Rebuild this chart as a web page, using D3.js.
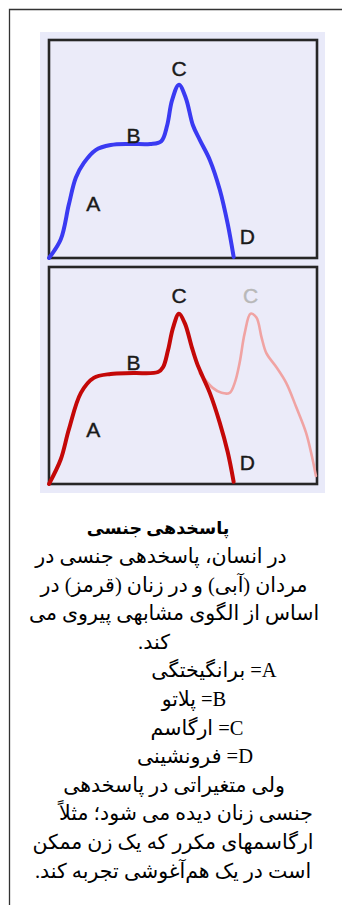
<!DOCTYPE html>
<html>
<head>
<meta charset="utf-8">
<script src="https://cdn.jsdelivr.net/npm/d3@7"></script>
<style>
  html, body { margin: 0; padding: 0; background: #fff; }
  svg { display: block; }
</style>
</head>
<body>
<svg id="chart" width="342" height="905"></svg>
<script>
// time (0-100) vs arousal (0-100)
const maleTime    = [0, 4.4, 7.4, 10, 13, 17.4, 23, 30.4, 37.8, 41.9, 44.1, 45.9, 48.5, 51.1, 53.7, 56.3, 60, 63.7, 66.7, 68.9];
const maleArousal = [0, 8.6, 24.5, 36.8, 43.6, 49.5, 51.8, 52.3, 52.3, 53.6, 60.9, 72.3, 79.5, 73.2, 60.9, 54.1, 45, 31.4, 15.5, 0.5];

const femaleTime    = [0, 4.4, 7.4, 11.9, 16.7, 23, 31.5, 40.7, 42.6, 44.4, 46.3, 48.5, 50.7, 53.3, 55.2, 57.4, 60, 63.7, 66.7, 68.9];
const femaleArousal = [0, 11.4, 25.1, 42, 48.9, 50.7, 51.1, 51.6, 53.9, 61.6, 72.1, 78.5, 74, 63, 55.7, 49.3, 42, 28.3, 14.6, 1];

// second orgasm branch (pale red)
const repeatTime    = [56.3, 61.1, 64.4, 67.4, 69.3, 71.1, 73, 75.2, 77.4, 79.3, 81.1, 84.8, 88.5, 92.2, 95.9, 98.1, 99.6];
const repeatArousal = [51.1, 44.3, 42, 42, 46.6, 55.7, 69.4, 78.5, 76.7, 67.6, 60.3, 53.9, 46.6, 35.6, 23.7, 12.8, 3.7];

const phaseNames = ["A", "B", "C", "D"];
const phaseTime    = [16.5, 31.5, 48.5, 74];
const phaseArousal = [25, 56, 87, 10];

const title = "پاسخدهی جنسی";
const bodyLines = [
  "در انسان، پاسخدهی جنسی در",
  "مردان (آبی) و در زنان (قرمز) در",
  "اساس از الگوی مشابهی پیروی می",
  "کند.",
  "A= برانگیختگی",
  "B= پلاتو",
  "C= ارگاسم",
  "D= فرونشینی",
  "ولی متغیراتی در پاسخدهی",
  "جنسی زنان دیده می شود؛ مثلاً",
  "ارگاسمهای مکرر که یک زن ممکن",
  "است در یک هم‌آغوشی تجربه کند."
];
// horizontal centre of each text line (layout only)
const lineCentre = [161, 174, 174, 154, 214, 194, 197, 195, 174, 186, 173, 173];

const svg = d3.select("#chart");

// outer frame (open on right and bottom)
svg.append("path")
  .attr("d", "M9.5,905 L9.5,9.5 L342,9.5")
  .attr("fill", "none")
  .attr("stroke", "#333")
  .attr("stroke-width", 1.3);

// lavender picture panel
svg.append("rect")
  .attr("x", 40).attr("y", 32)
  .attr("width", 285).attr("height", 461)
  .attr("fill", "#e9eaf9");

const x = d3.scaleLinear().domain([0, 100]).range([49, 317]);
const yTop = d3.scaleLinear().domain([0, 100]).range([258, 40]);
const yBot = d3.scaleLinear().domain([0, 100]).range([484, 267]);

function panel(y) {
  const g = svg.append("g");
  g.append("rect")
    .attr("x", x(0)).attr("y", y(100))
    .attr("width", x(100) - x(0)).attr("height", y(0) - y(100))
    .attr("fill", "#ebebf9")
    .attr("stroke", "#262626")
    .attr("stroke-width", 2.6);
  return g;
}

function curve(g, y, xs, ys, color, width) {
  const line = d3.line()
    .x(d => x(d[0]))
    .y(d => y(d[1]))
    .curve(d3.curveCatmullRom.alpha(0.5));
  g.append("path")
    .datum(d3.zip(xs, ys))
    .attr("d", line)
    .attr("fill", "none")
    .attr("stroke", color)
    .attr("stroke-width", width)
    .attr("stroke-linecap", "round")
    .attr("stroke-linejoin", "round");
}

const labelFont = "'Liberation Sans', Arial, sans-serif";

function labels(g, y) {
  g.selectAll("text.phase")
    .data(phaseNames)
    .enter().append("text")
    .attr("class", "phase")
    .attr("x", (d, i) => x(phaseTime[i]))
    .attr("y", (d, i) => y(phaseArousal[i]))
    .attr("text-anchor", "middle")
    .attr("dominant-baseline", "central")
    .style("font-family", labelFont)
    .style("font-size", "21px")
    .attr("fill", "#1a1a1a")
    .attr("stroke", "#1a1a1a")
    .attr("stroke-width", 0.4)
    .text(d => d);
}

const topPanel = panel(yTop);
curve(topPanel, yTop, maleTime, maleArousal, "#3a3af2", 4);
labels(topPanel, yTop);

const botPanel = panel(yBot);
curve(botPanel, yBot, repeatTime, repeatArousal, "#f0a3a3", 2.6);
curve(botPanel, yBot, femaleTime, femaleArousal, "#c40808", 4);
labels(botPanel, yBot);
botPanel.append("text")
  .attr("x", x(75.2))
  .attr("y", yBot(phaseArousal[2]))
  .attr("text-anchor", "middle")
  .attr("dominant-baseline", "central")
  .style("font-family", labelFont)
  .style("font-size", "21px")
  .attr("fill", "#b8b8b8")
  .attr("stroke", "#b8b8b8")
  .attr("stroke-width", 0.4)
  .text(phaseNames[2]);

// caption
const textFont = "'Liberation Serif', 'DejaVu Sans', serif";
svg.append("text")
  .attr("x", 158).attr("y", 534)
  .attr("text-anchor", "middle")
  .attr("direction", "rtl")
  .style("font-family", textFont)
  .style("font-weight", "bold")
  .style("font-size", "17.5px")
  .attr("fill", "#000")
  .text(title);

svg.selectAll("text.body")
  .data(bodyLines)
  .enter().append("text")
  .attr("class", "body")
  .attr("x", (d, i) => lineCentre[i])
  .attr("y", (d, i) => 563 + i * 28.6)
  .attr("text-anchor", "middle")
  .attr("direction", "rtl")
  .style("font-family", textFont)
  .style("font-size", "20.5px")
  .attr("fill", "#000")
  .text(d => d);
</script>
</body>
</html>
